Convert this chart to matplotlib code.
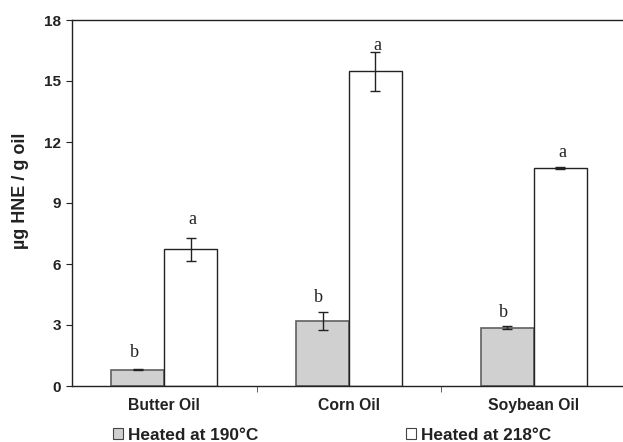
import numpy as np
import matplotlib
matplotlib.use('Agg')
import matplotlib.pyplot as plt
from matplotlib.patches import Patch

# data
oils = ['Butter Oil', 'Corn Oil', 'Soybean Oil']
hne_190 = [0.80, 3.21, 2.87]
err_190 = [0.03, 0.45, 0.08]
hne_218 = [6.72, 15.48, 10.71]
err_218 = [0.58, 0.97, 0.06]
letters_190 = ['b', 'b', 'b']
letters_218 = ['a', 'a', 'a']
letter_y_190 = [1.64, 4.34, 3.62]
letter_y_218 = [8.21, 16.74, 11.48]
series_names = ['Heated at 190°C', 'Heated at 218°C']


def main():
    plt.rcParams['font.family'] = ['Liberation Sans', 'DejaVu Sans']
    fig = plt.figure(figsize=(6.23, 4.42), dpi=100)
    ax = fig.add_axes([72 / 623, 56 / 442, 551 / 623, 366 / 442])

    x = np.arange(len(oils))
    w = 0.287
    off = w / 2
    ekw = dict(ecolor='#222222', elinewidth=1, capsize=3.5, capthick=1)
    ax.bar(x - off, hne_190, w, color='#d0d0d0', edgecolor='#606060',
           linewidth=1.2, yerr=err_190, error_kw=ekw, zorder=2)
    ax.bar(x + off, hne_218, w, color='white', edgecolor='#222222',
           linewidth=1.0, yerr=err_218, error_kw=ekw, zorder=2)

    for i in range(len(oils)):
        ax.text(x[i] - off - 0.02, letter_y_190[i], letters_190[i], ha='center', va='center',
                fontsize=13, family='Liberation Serif', color='#222222')
        ax.text(x[i] + off + 0.01, letter_y_218[i], letters_218[i], ha='center', va='center',
                fontsize=13, family='Liberation Serif', color='#222222')

    ax.set_ylim(0, 18)
    ax.set_xlim(-0.5, 2.5 - 3 / 184.7)
    ax.set_yticks(np.arange(0, 19, 3))
    ax.set_xticks(x)
    ax.set_xticklabels(oils, fontsize=11.3, fontweight='bold', color='#222222', va='baseline')
    ax.set_xticks([0.5, 1.5], minor=True)
    ax.tick_params(axis='x', which='major', length=0, pad=17)
    ax.tick_params(axis='x', which='minor', length=4, direction='out', color='#444444')
    ax.tick_params(axis='y', length=4, direction='out', labelsize=11, pad=4, color='#222222')
    for lab in ax.get_yticklabels():
        lab.set_fontweight('bold')
        lab.set_color('#222222')
    ax.set_ylabel('µg HNE / g oil', fontsize=13, fontweight='bold', color='#222222')
    ax.yaxis.set_label_coords(-(72 - 29) / 551, 0.533)

    ax.spines['right'].set_visible(False)
    for s in ['left', 'top', 'bottom']:
        ax.spines[s].set_color('#222222')
        ax.spines[s].set_linewidth(1.0)

    handles = [Patch(facecolor='#d0d0d0', edgecolor='#444444', linewidth=0.8),
               Patch(facecolor='white', edgecolor='#444444', linewidth=0.8)]
    leg = fig.legend(handles, series_names, loc='center', bbox_to_anchor=(332 / 623, 7 / 442),
                     ncol=2, frameon=False, handlelength=0.6, handleheight=0.6,
                     handletextpad=0.3, columnspacing=8.55,
                     prop={'size': 12.4, 'weight': 'bold'})
    for t in leg.get_texts():
        t.set_color('#222222')

    fig.savefig('out.png', dpi=100)


if __name__ == '__main__':
    main()
